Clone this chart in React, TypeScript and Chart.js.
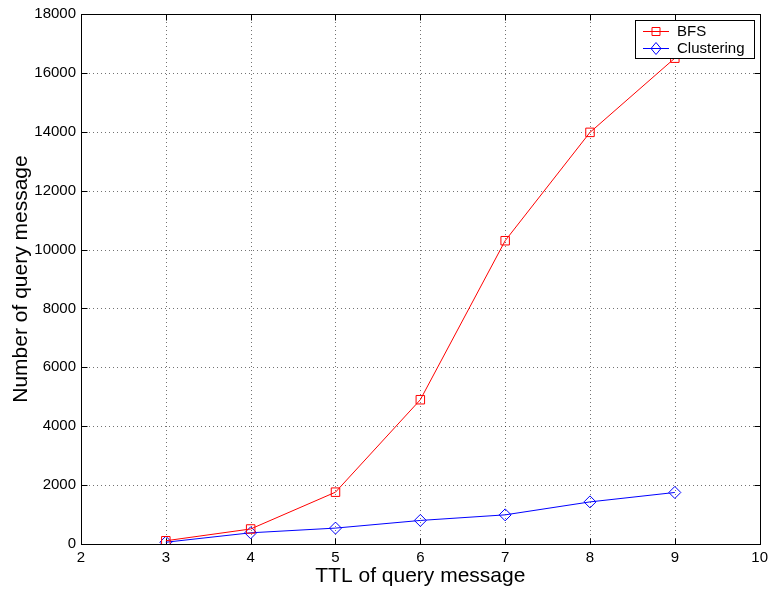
import React, { useEffect, useRef } from "react";
import { Chart, registerables } from "chart.js";

Chart.register(...registerables);

const ttl = [3, 4, 5, 6, 7, 8, 9];
const bfsValues = [110, 510, 1760, 4900, 10300, 13980, 16500];
const clusteringValues = [60, 380, 540, 800, 990, 1430, 1750];
const xTicks = [2, 3, 4, 5, 6, 7, 8, 9, 10];
const yTicks = [0, 2000, 4000, 6000, 8000, 10000, 12000, 14000, 16000, 18000];
const seriesNames = ["BFS", "Clustering"];
const xTitle = "TTL of query message";
const yTitle = "Number of query message";

const FONT = "'Liberation Sans', Arial, Helvetica, sans-serif";

const framePlugin = {
  id: "matlabFrame",
  beforeDatasetsDraw(chart: any) {
    const { ctx, chartArea: a, scales } = chart;
    const xs = scales.x;
    const ys = scales.y;
    ctx.save();
    // dotted grid
    ctx.strokeStyle = "rgba(0,0,0,0.55)";
    ctx.lineWidth = 1;
    ctx.setLineDash([1, 3]);
    xTicks.forEach((t) => {
      if (t === xTicks[0] || t === xTicks[xTicks.length - 1]) return;
      const px = Math.round(xs.getPixelForValue(t)) + 0.5;
      ctx.beginPath();
      ctx.moveTo(px, a.top);
      ctx.lineTo(px, a.bottom);
      ctx.stroke();
    });
    yTicks.forEach((t) => {
      if (t === yTicks[0] || t === yTicks[yTicks.length - 1]) return;
      const py = Math.round(ys.getPixelForValue(t)) + 0.5;
      ctx.beginPath();
      ctx.moveTo(a.left, py);
      ctx.lineTo(a.right, py);
      ctx.stroke();
    });
    ctx.setLineDash([]);
    // box
    ctx.strokeStyle = "#000";
    ctx.lineWidth = 1;
    const l = Math.round(a.left) + 0.5;
    const r = Math.round(a.right) + 0.5;
    const t = Math.round(a.top) + 0.5;
    const b = Math.round(a.bottom) + 0.5;
    ctx.strokeRect(l, t, r - l, b - t);
    // inward ticks
    const tl = 6;
    ctx.beginPath();
    xTicks.forEach((v) => {
      const px = Math.round(xs.getPixelForValue(v)) + 0.5;
      ctx.moveTo(px, b);
      ctx.lineTo(px, b - tl);
      ctx.moveTo(px, t);
      ctx.lineTo(px, t + tl);
    });
    yTicks.forEach((v) => {
      const py = Math.round(ys.getPixelForValue(v)) + 0.5;
      ctx.moveTo(l, py);
      ctx.lineTo(l + tl, py);
      ctx.moveTo(r, py);
      ctx.lineTo(r - tl, py);
    });
    ctx.stroke();
    ctx.restore();
  },
  afterDraw(chart: any) {
    const { ctx, chartArea: a } = chart;
    ctx.save();
    // axis titles
    ctx.fillStyle = "#000";
    ctx.font = `21px ${FONT}`;
    ctx.textAlign = "center";
    ctx.textBaseline = "alphabetic";
    ctx.fillText(xTitle, (a.left + a.right) / 2, 582);
    ctx.save();
    ctx.translate(27, (a.top + a.bottom) / 2);
    ctx.rotate(-Math.PI / 2);
    ctx.fillText(yTitle, 0, 0);
    ctx.restore();

    // legend
    const bx = 635.5, by = 20.5, bw = 119, bh = 38;
    ctx.fillStyle = "#fff";
    ctx.fillRect(bx, by, bw, bh);
    ctx.strokeStyle = "#000";
    ctx.lineWidth = 1;
    ctx.strokeRect(bx, by, bw, bh);
    const colors = ["#ff0000", "#0000ff"];
    const rowsY = [31, 48];
    ctx.font = `15px ${FONT}`;
    ctx.textAlign = "left";
    ctx.textBaseline = "middle";
    seriesNames.forEach((name, i) => {
      const y = rowsY[i] + 0.5;
      ctx.strokeStyle = colors[i];
      ctx.lineWidth = 1;
      ctx.beginPath();
      ctx.moveTo(643, y);
      ctx.lineTo(669, y);
      ctx.stroke();
      const cx = 656;
      ctx.beginPath();
      if (i === 0) {
        ctx.rect(cx - 4, y - 4, 8, 8);
      } else {
        ctx.moveTo(cx, y - 6);
        ctx.lineTo(cx + 5, y);
        ctx.lineTo(cx, y + 6);
        ctx.lineTo(cx - 5, y);
        ctx.closePath();
      }
      ctx.stroke();
      ctx.fillStyle = "#000";
      ctx.fillText(name, 677, rowsY[i] + 1);
    });
    ctx.restore();
  },
};

export default function App() {
  const ref = useRef<HTMLCanvasElement | null>(null);
  useEffect(() => {
    document.body.style.margin = "0";
    const canvas = ref.current;
    if (!canvas) return;
    const chart = new Chart(canvas, {
      type: "line",
      data: {
        datasets: [
          {
            label: seriesNames[0],
            data: ttl.map((x, i) => ({ x, y: bfsValues[i] })),
            borderColor: "#ff0000",
            borderWidth: 1,
            pointStyle: "rect",
            pointRadius: 6,
            pointBorderWidth: 1,
            pointBorderColor: "#ff0000",
            pointBackgroundColor: "rgba(0,0,0,0)",
            fill: false,
            tension: 0,
          },
          {
            label: seriesNames[1],
            data: ttl.map((x, i) => ({ x, y: clusteringValues[i] })),
            borderColor: "#0000ff",
            borderWidth: 1,
            pointStyle: "rectRot",
            pointRadius: 6,
            pointBorderWidth: 1,
            pointBorderColor: "#0000ff",
            pointBackgroundColor: "rgba(0,0,0,0)",
            fill: false,
            tension: 0,
          },
        ],
      },
      options: {
        animation: false,
        responsive: false,
        events: [],
        layout: { padding: { top: 13, right: 11, left: 0, bottom: 0 } },
        plugins: {
          legend: { display: false },
          tooltip: { enabled: false },
        },
        scales: {
          x: {
            type: "linear",
            min: 2,
            max: 10,
            afterBuildTicks: (s: any) => {
              s.ticks = xTicks.map((v) => ({ value: v }));
            },
            afterFit: (s: any) => {
              s.height = 54;
            },
            grid: { display: false, drawTicks: false },
            border: { display: false },
            ticks: {
              color: "#000",
              padding: 5,
              maxRotation: 0,
              autoSkip: false,
              font: { family: FONT, size: 15 },
              callback: (v: any) => String(v),
            },
          },
          y: {
            type: "linear",
            min: 0,
            max: 18000,
            afterBuildTicks: (s: any) => {
              s.ticks = yTicks.map((v) => ({ value: v }));
            },
            afterFit: (s: any) => {
              s.width = 81;
            },
            grid: { display: false, drawTicks: false },
            border: { display: false },
            ticks: {
              color: "#000",
              padding: 5,
              autoSkip: false,
              font: { family: FONT, size: 15 },
              callback: (v: any) => String(v),
            },
          },
        },
      },
      plugins: [framePlugin],
    } as any);
    return () => chart.destroy();
  }, []);
  return (
    <div style={{ position: "absolute", left: 0, top: 0, width: 773, height: 598, background: "#fff" }}>
      <canvas ref={ref} width={773} height={598} style={{ width: 773, height: 598, display: "block" }} />
    </div>
  );
}
